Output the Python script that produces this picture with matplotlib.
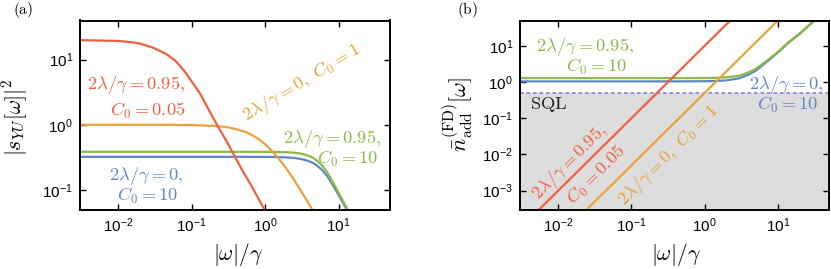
import matplotlib
matplotlib.use("Agg")
import matplotlib.pyplot as plt
from matplotlib.ticker import NullLocator, FixedLocator

plt.rcParams.update({
    "font.family": "Liberation Sans",
    "mathtext.fontset": "custom",
    "mathtext.rm": "Liberation Sans",
    "mathtext.it": "Liberation Sans:italic",
    "mathtext.bf": "Liberation Sans:bold",
})

RED = "#EF6040"
ORANGE = "#E9A23B"
GREEN = "#8CB843"
BLUE = "#5F86C4"
SQL_COLOR = "#9088D4"
SHADE = "#DDDDDD"

# ---- panel (a): |s_YU[w]|^2 vs |w|/gamma ----
a_red_x = [0.003, 0.01, 0.015, 0.02, 0.03, 0.045, 0.06, 0.08, 0.1, 0.13, 0.17,
           0.22, 0.3, 0.4, 0.5, 0.65, 0.8, 1.0]
a_red_y = [20, 19.4, 18.6, 17.6, 15.2, 12.2, 9.6, 6.6, 4.6, 3.0, 1.7,
           1.0, 0.55, 0.30, 0.19, 0.115, 0.075, 0.047]

a_orange_x = [0.003, 0.05, 0.1, 0.2, 0.3, 0.4, 0.55, 0.7, 0.85, 1.0, 1.2, 1.5,
              1.9, 2.4, 3.0, 3.6, 4.4]
a_orange_y = [1.0, 1.0, 0.99, 0.96, 0.92, 0.86, 0.77, 0.67, 0.58, 0.5, 0.41, 0.31,
              0.22, 0.15, 0.1, 0.072, 0.049]

a_flat_x = [0.003, 0.5, 1, 1.5, 2, 2.5, 3, 3.5, 4, 4.5, 5, 6, 7, 8, 9, 10, 11.5,
            13, 14.5]
a_green_y = [0.385, 0.385, 0.384, 0.382, 0.378, 0.372, 0.362, 0.348, 0.33, 0.31,
             0.286, 0.235, 0.185, 0.142, 0.112, 0.09, 0.067, 0.052, 0.042]
a_blue_y = [0.322, 0.322, 0.321, 0.319, 0.315, 0.309, 0.3, 0.288, 0.274, 0.258,
            0.24, 0.2, 0.162, 0.128, 0.102, 0.083, 0.063, 0.049, 0.04]

# ---- panel (b): added noise vs |w|/gamma ----
b_red_x = [0.005, 0.05, 0.5, 2.3]
b_red_y = [2.5e-4, 0.025, 2.5, 53]

b_orange_x = [0.02, 0.1, 1.0, 10.5]
b_orange_y = [2.0e-4, 5.0e-3, 0.5, 55]

b_flat_x = [0.003, 0.5, 1, 1.5, 2, 3, 4, 5, 7, 10, 14, 20, 27, 32]
b_green_y = [1.28, 1.28, 1.29, 1.31, 1.35, 1.5, 1.85, 2.3, 3.8, 6.8, 12.5, 22, 38, 52]
b_blue_y = [1.04, 1.04, 1.05, 1.07, 1.11, 1.27, 1.6, 2.05, 3.55, 6.5, 12.2, 21.5, 37.5, 51.5]

sql_level = 0.5

xlim = (3e-3, 50)
a_ylim = (0.05, 40)
b_ylim = (3e-4, 50)

W, H = 831, 269
fig = plt.figure(figsize=(W / 100, H / 100), dpi=100)


def axes_px(left, top, right, bottom):
    return fig.add_axes([left / W, 1 - bottom / H, (right - left) / W, (bottom - top) / H])


def cm_text(x, y, s, **kw):
    # computer-modern text at pixel coords (y measured from the top)
    kw.setdefault("fontsize", 13.3)
    return fig.text(x / W, 1 - y / H, s, math_fontfamily="cm", **kw)


def style(ax, yticks):
    ax.set_xscale("log")
    ax.set_yscale("log")
    ax.set_xlim(*xlim)
    ax.xaxis.set_major_locator(FixedLocator([1e-2, 1e-1, 1, 10]))
    ax.yaxis.set_major_locator(FixedLocator(yticks))
    ax.xaxis.set_minor_locator(NullLocator())
    ax.yaxis.set_minor_locator(NullLocator())
    ax.tick_params(which="both", direction="in", top=True, right=True,
                   length=4, width=1, labelsize=11, pad=5)
    for sp in ax.spines.values():
        sp.set_linewidth(1.4)


lw = 1.6

ax_a = axes_px(80, 20.5, 390, 209.5)
style(ax_a, [1e-1, 1, 10])
ax_a.set_ylim(*a_ylim)
ax_a.plot(a_flat_x, a_blue_y, color=BLUE, lw=lw)
ax_a.plot(a_flat_x, a_green_y, color=GREEN, lw=lw)
ax_a.plot(a_orange_x, a_orange_y, color=ORANGE, lw=lw)
ax_a.plot(a_red_x, a_red_y, color=RED, lw=lw)

ax_b = axes_px(520, 20.5, 829, 209.5)
style(ax_b, [1e-3, 1e-2, 1e-1, 1, 10])
ax_b.set_ylim(*b_ylim)
ax_b.axhspan(b_ylim[0], sql_level, color=SHADE, lw=0, zorder=0)
ax_b.axhline(sql_level, color=SQL_COLOR, lw=1.3, ls=(0, (2, 1.6)), zorder=1)
ax_b.plot(b_flat_x, b_blue_y, color=BLUE, lw=lw)
ax_b.plot(b_flat_x, b_green_y, color=GREEN, lw=lw)
ax_b.plot(b_orange_x, b_orange_y, color=ORANGE, lw=lw)
ax_b.plot(b_red_x, b_red_y, color=RED, lw=lw)

# panel letters and axis labels
cm_text(23, 10, r"$\mathrm{(a)}$", ha="center", va="center", fontsize=11)
cm_text(467, 10, r"$\mathrm{(b)}$", ha="center", va="center", fontsize=11)
cm_text(238, 255, r"$|\omega|/\gamma$", ha="center", va="center", fontsize=15.5)
cm_text(676, 255, r"$|\omega|/\gamma$", ha="center", va="center", fontsize=15.5)
cm_text(15, 117, r"$|s_{YU}[\omega]|^2$", ha="center", va="center", rotation=90,
        fontsize=15.5)
cm_text(458, 114, r"$\bar{n}_{\mathrm{add}}^{(\mathrm{FD})}[\omega]$", ha="center",
        va="center", rotation=90, fontsize=16)

# annotations, panel (a)
cm_text(185, 89.5, r"$2\lambda/\gamma=0.95,$", ha="right", va="baseline", color=RED)
cm_text(185, 115.5, r"$C_0=0.05$", ha="right", va="baseline", color=RED)
cm_text(381, 142.5, r"$2\lambda/\gamma=0.95,$", ha="right", va="baseline", color=GREEN)
cm_text(378, 163.5, r"$C_0=10$", ha="right", va="baseline", color=GREEN)
cm_text(184, 180, r"$2\lambda/\gamma=0,$", ha="right", va="baseline", color=BLUE)
cm_text(178, 201, r"$C_0=10$", ha="right", va="baseline", color=BLUE)
cm_text(301.7, 83, r"$2\lambda/\gamma=0,\ C_0=1$", ha="center", va="center",
        rotation=31, rotation_mode="anchor", color=ORANGE)

# annotations, panel (b)
cm_text(634, 51.5, r"$2\lambda/\gamma=0.95,$", ha="right", va="baseline", color=GREEN)
cm_text(627, 72, r"$C_0=10$", ha="right", va="baseline", color=GREEN)
cm_text(824, 88.5, r"$2\lambda/\gamma=0,$", ha="right", va="baseline", color=BLUE)
cm_text(818.5, 110, r"$C_0=10$", ha="right", va="baseline", color=BLUE)
cm_text(530, 109.3, r"$\mathrm{SQL}$", ha="left", va="baseline", color="#222222")
cm_text(570, 163, r"$2\lambda/\gamma=0.95,$", ha="center", va="center",
        rotation=45, rotation_mode="anchor", color=RED)
cm_text(596.5, 175, r"$C_0=0.05$", ha="center", va="center",
        rotation=45, rotation_mode="anchor", color=RED)
cm_text(668.5, 155.5, r"$2\lambda/\gamma=0,\ C_0=1$", ha="center", va="center",
        rotation=45, rotation_mode="anchor", color=ORANGE)

fig.savefig("out.png", dpi=100)
